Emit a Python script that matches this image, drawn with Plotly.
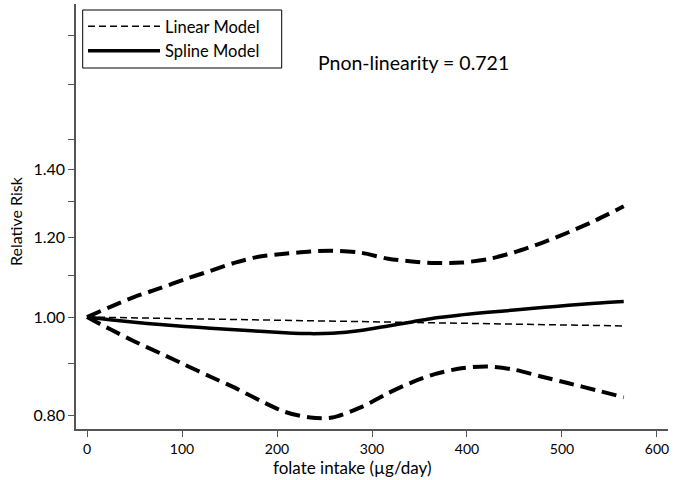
import plotly.graph_objects as go

# ---- data ----
folate = [0, 24, 50, 77, 103, 130, 156, 182, 208, 235, 258, 288, 317, 342, 366, 394, 422, 450, 479, 507, 535, 565]
spline_rr = [1.000, 0.994, 0.988, 0.983, 0.979, 0.975, 0.9715, 0.968, 0.965, 0.963, 0.964, 0.970,
             0.980, 0.989, 0.998, 1.005, 1.011, 1.016, 1.022, 1.027, 1.032, 1.036]
upper_rr = [1.000, 1.023, 1.047, 1.068, 1.090, 1.111, 1.132, 1.148, 1.155, 1.161, 1.163, 1.158,
            1.142, 1.135, 1.131, 1.132, 1.141, 1.159, 1.184, 1.213, 1.246, 1.287]
lower_rr = [1.000, 0.973, 0.946, 0.921, 0.897, 0.873, 0.851, 0.827, 0.806, 0.7955, 0.7955, 0.814,
            0.841, 0.862, 0.878, 0.890, 0.8935, 0.887, 0.873, 0.860, 0.847, 0.833]

linear_x = [0, 100, 200, 282, 400, 500, 565]
linear_rr = [1.000, 0.9965, 0.993, 0.990, 0.986, 0.9825, 0.980]

x_ticks = [0, 100, 200, 300, 400, 500, 600]
y_ticks = [0.8, 0.9, 1.0, 1.1, 1.2, 1.3, 1.4, 1.5, 1.7, 1.9]
y_tick_text = ["0.80", "", "1.00", "", "1.20", "", "1.40", "", "", ""]

FONT = "Lato"
AX = "#555555"

fig = go.Figure()
fig.add_trace(go.Scatter(x=folate, y=upper_rr, mode="lines", line_shape="spline",
                         line=dict(color="black", width=4, dash="15px,7px", smoothing=0.8), showlegend=False))
fig.add_trace(go.Scatter(x=folate, y=lower_rr, mode="lines", line_shape="spline",
                         line=dict(color="black", width=4, dash="15px,7px", smoothing=0.8), showlegend=False))
fig.add_trace(go.Scatter(x=linear_x, y=linear_rr, mode="lines", name="Linear Model",
                         line=dict(color="black", width=1.5, dash="7px,4px")))
fig.add_trace(go.Scatter(x=folate, y=spline_rr, mode="lines", line_shape="spline", name="Spline Model",
                         line=dict(color="black", width=3.5, smoothing=0.8)))

W, H = 675, 480
L, R, T, B = 76, 7, 4, 51
pw, ph = W - L - R, H - T - B

def px(xp):
    return (xp - L) / pw

def py(yp):
    return (H - B - yp) / ph

fig.update_layout(
    width=W, height=H,
    margin=dict(l=L, r=R, t=T, b=B),
    paper_bgcolor="white", plot_bgcolor="white",
    font=dict(family=FONT, size=15, color="black"),
    showlegend=True,
    legend=dict(x=px(83), y=py(9), xanchor="left", yanchor="top",
                borderwidth=0, bgcolor="rgba(0,0,0,0)",
                itemwidth=72, font=dict(size=16.5, family=FONT), tracegroupgap=0),
    shapes=[dict(type="rect", xref="paper", yref="paper", x0=px(82.7), x1=px(281.7),
                 y0=py(68), y1=py(10), line=dict(color="black", width=1), layer="above")],
    xaxis=dict(range=[-11.6, 611.6], tickvals=x_ticks, ticks="outside", ticklen=6, tickwidth=1,
               tickcolor=AX, linecolor=AX, linewidth=1.5, showline=True, ticklabeloverflow="allow",
               showgrid=False, zeroline=False, tickfont=dict(size=14, family=FONT)),
    yaxis=dict(type="log", range=[-0.1107, 0.3096], tickvals=y_ticks, ticktext=y_tick_text,
               ticks="outside", ticklen=6, tickwidth=1, tickcolor=AX, linecolor=AX, linewidth=1.5,
               showline=True, showgrid=False, zeroline=False, tickfont=dict(size=16, family=FONT)),
    annotations=[
        dict(text="folate intake (µg/day)", xref="paper", yref="paper", x=px(352), y=py(467),
             showarrow=False, xanchor="center", yanchor="middle", font=dict(size=17, family=FONT)),
        dict(text="Relative Risk", xref="paper", yref="paper", x=px(16), y=py(221), textangle=-90,
             showarrow=False, xanchor="center", yanchor="middle", font=dict(size=16, family=FONT)),
        dict(text="Pnon-linearity = 0.721", xref="paper", yref="paper", x=px(316), y=py(63),
             showarrow=False, xanchor="left", yanchor="middle", font=dict(size=19.5, family=FONT)),
    ],
)

fig.write_html("out.html", config={"displayModeBar": False},
               post_script="document.body.style.margin='0';")
